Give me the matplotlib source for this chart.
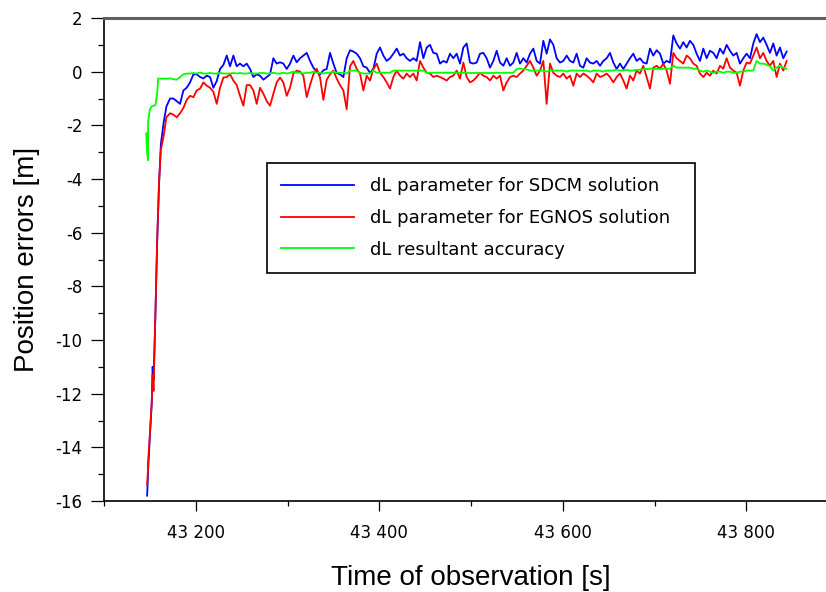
import numpy as np
import matplotlib
matplotlib.use('Agg')
import matplotlib.pyplot as plt
from matplotlib.ticker import FixedLocator, MultipleLocator

plt.rcParams['axes.unicode_minus'] = False

# ramp at the start of the record (time [s], error [m])
ramp_t = [43147, 43148, 43148, 43150, 43152, 43153, 43154, 43156, 43158, 43160, 43162, 43165, 43168]
sdcm_ramp = [-15.8, -15.0, -14.9, -13.6, -12.4, -11.0, -11.5, -9.1, -6.3, -4.2, -2.7, -1.9, -1.3]
egnos_ramp = [-15.4, -14.8, -14.6, -13.5, -12.3, -11.3, -11.9, -9.1, -6.2, -4.1, -2.9, -2.4, -1.7]
res_ramp_t = [43146, 43147, 43148, 43148, 43150, 43152, 43156, 43158, 43159, 43165, 43170]
res_ramp = [-2.3, -3.0, -3.3, -1.9, -1.4, -1.3, -1.25, -0.8, -0.26, -0.26, -0.26]

# steady part, sampled evenly from 43172 s to 43844 s
t_start, t_end = 43172, 43844
sdcm = [-1.0, -1.0, -1.1, -1.2, -0.7, -0.6, -0.4, -0.1, -0.1, -0.2, -0.25, -0.15, -0.2, -0.6, -0.35,
        0.1, 0.25, 0.6, 0.2, 0.6, 0.2, 0.3, 0.2, 0.3, 0.1, -0.2, -0.1, -0.15, -0.3, -0.2, -0.1, 0.5,
        0.3, 0.35, 0.3, 0.1, 0.3, 0.6, 0.35, 0.5, 0.6, 0.7, 0.4, 0.15, 0.0, -0.1, 0.05, 0.1, 0.7, 0.3,
        -0.05, -0.1, -0.2, 0.5,
        0.8, 0.75, 0.67, 0.5, 0.2, 0.15, -0.05, 0.1, 0.67, 0.9, 0.6, 0.4, 0.5, 0.67, 0.86, 0.6, 0.67,
        0.5, 0.4, 0.5, 0.4, 1.1, 0.5, 0.9, 1.0, 0.7, 0.67, 0.3, 0.4, 0.34, 0.67, 0.5, 0.67, 0.3, 0.9,
        1.05, 0.34, 0.3, 0.34, 0.67, 0.7, 0.5, 0.15, 0.4, 0.78, 0.34, 0.22, 0.5, 0.22, 0.34, 0.7, 0.3,
        0.5, 0.34, 0.67, 0.86, 0.4, 0.3, 1.15, 0.67, 1.2, 1.0, 0.5, 0.34, 0.4, 0.6, 0.4, 0.34, 0.67,
        0.22, 0.15, 0.5, 0.34, 0.3, 0.4, 0.22, 0.4, 0.5,
        0.7, 0.34, 0.1, 0.3, 0.1, 0.3, 0.5, 0.67, 0.4, 0.5, 0.34, 0.3, 0.86, 0.6, 0.8, 0.67, 0.3, 0.4,
        0.34, 1.35, 1.05, 0.86, 1.1, 0.9, 1.15, 1.0, 0.67, 0.4, 0.86, 0.5, 0.78, 0.7, 0.5, 0.86, 0.67,
        1.0, 0.78, 0.6, 0.7, 0.3, 0.5, 0.67, 0.5, 1.05, 1.4, 1.1, 1.27, 1.0, 0.7, 1.05, 0.6, 0.9, 0.5,
        0.75]
egnos = [-1.55, -1.6, -1.7, -1.55, -1.35, -1.05, -0.9, -0.95, -0.7, -0.63, -0.4, -0.52, -0.6, -0.75,
         -1.2, -0.6, -0.22, -0.2, -0.1, -0.33, -0.5, -0.9, -1.27, -0.5, -0.5, -0.7, -1.2, -0.6, -0.82,
         -1.1, -1.27, -0.82, -0.4, -0.22, -0.4, -0.9, -0.6, -0.07, 0.04, 0.0, -0.15, -0.95, -0.5, -0.1,
         0.11, -0.22, -1.05, -0.3, -0.1, 0.04, -0.26, -0.5, -0.7, -1.4,
         0.2, 0.4, 0.1, -0.07, -0.7, -0.15, -0.33, 0.1, 0.3, -0.04, -0.2, -0.4, -0.63, -0.2, 0.04,
         -0.15, -0.26, -0.07, -0.2, -0.07, -0.33, 0.4, 0.15, -0.04, -0.07, -0.2, -0.15, -0.2, -0.26,
         -0.33, -0.2, -0.15, 0.04, -0.26, 0.34, -0.2, -0.4, -0.33, -0.2, -0.04, -0.15, -0.2, -0.33,
         -0.15, -0.26, -0.15, -0.7, -0.4, -0.2, -0.15, -0.2, -0.07, 0.04, 0.22, 0.4, 0.15, -0.15, 0.04,
         0.4, -1.2, 0.3, -0.04, -0.15, -0.2, -0.07, -0.26, -0.15, -0.52, -0.07, -0.2, -0.07, -0.15,
         -0.26, -0.4, -0.07, -0.2, -0.15, -0.07,
         -0.2, -0.4, -0.2, -0.07, -0.33, -0.63, -0.15, -0.33, 0.04, -0.07, 0.22, -0.2, -0.63, 0.15, 0.22,
         0.11, 0.3, 0.04, -0.45, 0.7, 0.5, 0.4, 0.3, 0.6, 0.5, 0.3, 0.22, -0.07, -0.2, -0.04, -0.15,
         0.04, -0.07, 0.22, 0.11, 0.5, 0.15, 0.04, -0.04, -0.52, 0.04, 0.34, 0.3, 0.6, 0.9, 0.5, 0.7,
         0.4, 0.22, 0.4, -0.2, 0.3, 0.04, 0.4]
resultant = [-0.25, -0.28, -0.3, -0.2, -0.1, -0.07, -0.07, -0.05, -0.07, -0.03, -0.07, -0.07, -0.05,
             -0.07, -0.07, -0.05, -0.07, -0.07, -0.07, -0.05, -0.07, -0.05, -0.07, -0.07, -0.05, -0.07,
             -0.07, -0.05, -0.05, -0.07, -0.07, -0.04, -0.07, -0.07, -0.04, -0.07, -0.04, 0.0, -0.04,
             -0.04, -0.07, -0.04, -0.04, 0.0, -0.04, -0.04, -0.07, -0.04, -0.04, 0.0, -0.04, -0.04,
             -0.04, -0.07,
             0.04, 0.04, 0.04, -0.04, -0.07, -0.07, -0.07, 0.04, -0.04, -0.04, -0.04, -0.04, -0.04, 0.04,
             0.04, 0.04, 0.04, 0.04, 0.04, 0.04, 0.04, 0.04, 0.04, -0.04, -0.04, -0.04, -0.04, -0.04,
             -0.04, -0.04, -0.04, -0.04, -0.04, -0.04, -0.04, -0.05, -0.05, -0.05, -0.05, -0.05, -0.05,
             -0.05, -0.05, -0.05, -0.04, -0.04, -0.04, -0.04, -0.04, -0.04, 0.1, 0.12, 0.1, 0.08, 0.04,
             0.04, 0.04, 0.04, 0.04, 0.0, 0.04, 0.04, 0.04, 0.04, 0.04, 0.0, 0.04, 0.04, 0.04, 0.04,
             0.04, 0.04, 0.0, 0.04, 0.04, 0.04, 0.0, 0.04,
             0.04, 0.04, 0.07, 0.04, 0.04, 0.07, 0.04, 0.04, 0.07, 0.07, 0.1, 0.1, 0.11, 0.1, 0.11, 0.1,
             0.11, 0.1, 0.11, 0.22, 0.15, 0.15, 0.15, 0.15, 0.15, 0.11, 0.11, 0.04, 0.0, 0.04, 0.0,
             -0.04, 0.0, 0.0, -0.04, 0.0, 0.0, -0.04, -0.04, 0.0, 0.0, 0.04, 0.04, 0.04, 0.4, 0.3, 0.3,
             0.26, 0.2, 0.04, 0.15, 0.22, 0.15, 0.1]

labels = ['dL parameter for SDCM solution', 'dL parameter for EGNOS solution', 'dL resultant accuracy']
colors = ['#0000ff', '#ff0000', '#00ff00']
xticks = [43200, 43400, 43600, 43800]
xtick_labels = ['43 200', '43 400', '43 600', '43 800']
yticks = [2, 0, -2, -4, -6, -8, -10, -12, -14, -16]


def series(ramp_times, ramp_vals, vals):
    t = np.concatenate([ramp_times, np.linspace(t_start, t_end, len(vals))])
    return t, np.concatenate([ramp_vals, vals])


fig = plt.figure(figsize=(8.26, 5.92), dpi=100)
ax = fig.add_axes([104/826, 91/592, 734/826, 483/592])
for (rt, rv, v), c, lab in zip([(ramp_t, sdcm_ramp, sdcm), (ramp_t, egnos_ramp, egnos), (res_ramp_t, res_ramp, resultant)], colors, labels):
    t, y = series(rt, rv, v)
    ax.plot(t, y, color=c, lw=1.3, label=lab)

ax.set_xlim(43100, 43900); ax.set_ylim(-16, 2)
ax.xaxis.set_major_locator(FixedLocator(xticks)); ax.set_xticklabels(xtick_labels)
ax.xaxis.set_minor_locator(FixedLocator([43100, 43300, 43500, 43700]))
ax.yaxis.set_major_locator(FixedLocator(yticks)); ax.set_yticklabels([str(v) for v in yticks])
ax.yaxis.set_minor_locator(MultipleLocator(1))
ax.tick_params(axis='x', which='major', direction='out', length=7.2, width=0.9, pad=9, labelsize=12)
ax.tick_params(axis='x', which='minor', direction='out', length=3.6, width=0.9)
ax.tick_params(axis='y', which='major', direction='out', length=9.4, width=0.9, pad=6, labelsize=12)
ax.tick_params(axis='y', which='minor', direction='out', length=4.3, width=0.9)
for s in ['left', 'bottom']:
    ax.spines[s].set_linewidth(1.2)
ax.spines['top'].set_linewidth(2.2); ax.spines['top'].set_color('#606060')
ax.spines['right'].set_visible(False)
ax.set_xlabel('Time of observation [s]', fontsize=20, family='Liberation Sans', labelpad=17)
ax.set_ylabel('Position errors [m]', fontsize=20, family='Liberation Sans', labelpad=11)

leg_h = 0.2
leg = ax.legend(loc='upper left', bbox_to_anchor=(267/826, 1-163/592-leg_h, (695-267)/826, leg_h),
                bbox_transform=fig.transFigure, mode='expand', fancybox=False, edgecolor='black',
                framealpha=1, fontsize=13, handlelength=4.0, handletextpad=0.9, labelspacing=0.75,
                borderpad=0.8, borderaxespad=0)
leg.get_frame().set_linewidth(1.2)
for ln in leg.get_lines():
    ln.set_linewidth(1.3)

fig.savefig('out.png', dpi=100)
